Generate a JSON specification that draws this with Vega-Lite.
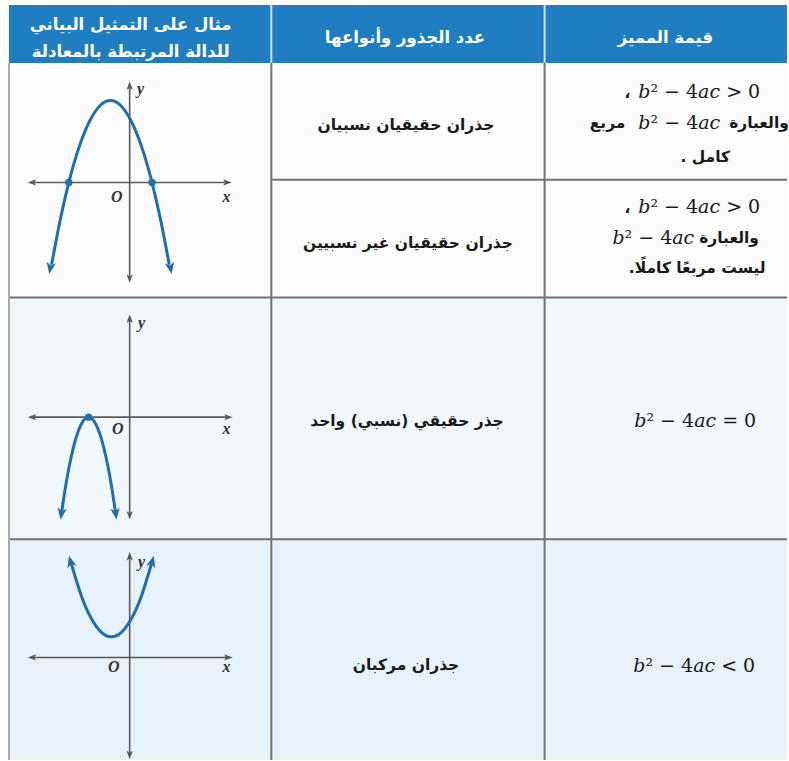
{
  "$schema": "https://vega.github.io/schema/vega-lite/v6.json",
  "width": 789,
  "height": 761,
  "padding": 0,
  "autosize": {"type": "fit", "contains": "padding"},
  "background": "#ffffff",
  "config": {"view": {"stroke": null}},
  "resolve": {"scale": {"color": "independent"}},
  "datasets": {
    "cells": [
      {"band": "header", "x": 9, "x2": 789, "y": 5, "y2": 63},
      {"band": "rows12", "x": 9, "x2": 789, "y": 63, "y2": 298},
      {"band": "row3", "x": 9, "x2": 789, "y": 298, "y2": 540},
      {"band": "row4", "x": 9, "x2": 789, "y": 540, "y2": 761}
    ],
    "grid": [
      {"kind": "grid", "x": 272, "x2": 272, "y": 63, "y2": 761},
      {"kind": "grid", "x": 546, "x2": 546, "y": 63, "y2": 761},
      {"kind": "grid", "x": 272, "x2": 789, "y": 180, "y2": 180},
      {"kind": "grid", "x": 9, "x2": 789, "y": 298, "y2": 298},
      {"kind": "grid", "x": 9, "x2": 789, "y": 540, "y2": 540},
      {"kind": "edge", "x": 9, "x2": 9, "y": 63, "y2": 761},
      {"kind": "head", "x": 272, "x2": 272, "y": 5, "y2": 63},
      {"kind": "head", "x": 546, "x2": 546, "y": 5, "y2": 63}
    ],
    "axes": [
      {"x": 31, "x2": 229, "y": 182.7, "y2": 182.7},
      {"x": 130, "x2": 130, "y": 85, "y2": 280},
      {"x": 31, "x2": 230, "y": 417.7, "y2": 417.7},
      {"x": 130, "x2": 130, "y": 318, "y2": 517},
      {"x": 31, "x2": 230, "y": 658.3, "y2": 658.3},
      {"x": 130, "x2": 130, "y": 556, "y2": 757}
    ],
    "axisArrows": [
      {"x": 32, "y": 182.7, "ang": 270}, {"x": 228, "y": 182.7, "ang": 90},
      {"x": 130, "y": 85.7, "ang": 0}, {"x": 130, "y": 279, "ang": 180},
      {"x": 32, "y": 417.7, "ang": 270}, {"x": 229, "y": 417.7, "ang": 90},
      {"x": 130, "y": 319, "ang": 0}, {"x": 130, "y": 516, "ang": 180},
      {"x": 32, "y": 658.3, "ang": 270}, {"x": 229, "y": 658.3, "ang": 90},
      {"x": 130, "y": 557, "ang": 0}, {"x": 130, "y": 756, "ang": 180}
    ],
    "curves": [
      {"g": "p1", "x": 51.7, "y": 265.0}, {"g": "p1", "x": 60.7, "y": 218.7}, {"g": "p1", "x": 70.7, "y": 176.2},
      {"g": "p1", "x": 80.7, "y": 143.2}, {"g": "p1", "x": 90.7, "y": 119.6}, {"g": "p1", "x": 100.7, "y": 105.4},
      {"g": "p1", "x": 110.7, "y": 100.7}, {"g": "p1", "x": 120.7, "y": 105.4}, {"g": "p1", "x": 130.7, "y": 119.6},
      {"g": "p1", "x": 140.7, "y": 143.2}, {"g": "p1", "x": 150.7, "y": 176.2}, {"g": "p1", "x": 160.7, "y": 218.7},
      {"g": "p1", "x": 169.7, "y": 265.0},
      {"g": "p3", "x": 61.8, "y": 512.8}, {"g": "p3", "x": 64.8, "y": 492.9}, {"g": "p3", "x": 68.8, "y": 469.9},
      {"g": "p3", "x": 73.8, "y": 447.1}, {"g": "p3", "x": 78.8, "y": 430.8}, {"g": "p3", "x": 83.8, "y": 421.0},
      {"g": "p3", "x": 88.8, "y": 417.7}, {"g": "p3", "x": 93.8, "y": 421.0}, {"g": "p3", "x": 98.8, "y": 430.8},
      {"g": "p3", "x": 103.8, "y": 447.1}, {"g": "p3", "x": 108.8, "y": 469.9}, {"g": "p3", "x": 112.8, "y": 492.9},
      {"g": "p3", "x": 115.8, "y": 512.8},
      {"g": "p4", "x": 71.4, "y": 564.2}, {"g": "p4", "x": 81.7, "y": 597.0}, {"g": "p4", "x": 91.7, "y": 619.6},
      {"g": "p4", "x": 101.7, "y": 633.2}, {"g": "p4", "x": 111.7, "y": 637.7}, {"g": "p4", "x": 121.7, "y": 633.2},
      {"g": "p4", "x": 131.7, "y": 619.6}, {"g": "p4", "x": 141.7, "y": 597.0}, {"g": "p4", "x": 152.0, "y": 564.2}
    ],
    "curveArrows": [
      {"x": 50.5, "y": 268.1, "ang": 190}, {"x": 170.9, "y": 268.1, "ang": 170},
      {"x": 61.6, "y": 514, "ang": 188}, {"x": 116, "y": 514, "ang": 172},
      {"x": 70.8, "y": 562.5, "ang": 345}, {"x": 152.5, "y": 562.5, "ang": 15}
    ],
    "roots": [
      {"x": 69, "y": 182.7}, {"x": 152.4, "y": 182.7}, {"x": 88.8, "y": 417.7}
    ],
    "axisLabels": [
      {"x": 141, "y": 89, "t": "y"}, {"x": 117, "y": 197, "t": "O"}, {"x": 227, "y": 197, "t": "x"},
      {"x": 142, "y": 323, "t": "y"}, {"x": 118, "y": 430, "t": "O"}, {"x": 227, "y": 430, "t": "x"},
      {"x": 142, "y": 563, "t": "y"}, {"x": 114, "y": 668, "t": "O"}, {"x": 227, "y": 668, "t": "x"}
    ],
    "headers": [
      {"x": 131, "y": 25, "t": "مثال على التمثيل البياني"},
      {"x": 131, "y": 52, "t": "للدالة المرتبطة بالمعادلة"},
      {"x": 406, "y": 38, "t": "عدد الجذور وأنواعها"},
      {"x": 667, "y": 38, "t": "قيمة المميز"}
    ],
    "roots_text": [
      {"x": 407, "y": 125, "t": "جذران حقيقيان نسبيان"},
      {"x": 409, "y": 243, "t": "جذران حقيقيان غير نسبيين"},
      {"x": 408, "y": 422, "t": "جذر حقيقي (نسبي) واحد"},
      {"x": 407, "y": 666, "t": "جذران مركبان"}
    ],
    "arabicCenter": [
      {"x": 629, "y": 93, "t": "،"},
      {"x": 707, "y": 157, "t": ". كامل"},
      {"x": 629, "y": 208, "t": "،"},
      {"x": 699, "y": 268, "t": ".ليست مربعًا كاملًا"}
    ],
    "arabicRight": [
      {"x": 627, "y": 123, "t": "مربع"}
    ],
    "arabicLeft": [
      {"x": 731, "y": 123, "t": "والعبارة"},
      {"x": 701, "y": 238, "t": "والعبارة"}
    ],
    "math": [
      {"x": 701, "y": 92, "t": "𝑏² − 4𝑎𝑐 > 0"},
      {"x": 681, "y": 123, "t": "𝑏² − 4𝑎𝑐"},
      {"x": 701, "y": 207, "t": "𝑏² − 4𝑎𝑐 > 0"},
      {"x": 655, "y": 238, "t": "𝑏² − 4𝑎𝑐"},
      {"x": 697, "y": 422, "t": "𝑏² − 4𝑎𝑐 = 0"},
      {"x": 696, "y": 667, "t": "𝑏² − 4𝑎𝑐 < 0"}
    ]
  },
  "encoding": {
    "x": {"field": "x", "type": "quantitative", "scale": {"domain": [0, 789], "nice": false, "zero": false}, "axis": null},
    "y": {"field": "y", "type": "quantitative", "scale": {"domain": [0, 761], "nice": false, "zero": false, "reverse": true}, "axis": null}
  },
  "layer": [
    {
      "data": {"name": "cells"},
      "mark": {"type": "rect"},
      "encoding": {
        "x2": {"field": "x2"},
        "y2": {"field": "y2"},
        "fill": {"field": "band", "type": "nominal", "legend": null,
          "scale": {"domain": ["header", "rows12", "row3", "row4"], "range": ["#1f7ec2", "#fbfbfb", "#f1f7fb", "#e7f2fa"]}}
      }
    },
    {
      "data": {"name": "grid"},
      "mark": {"type": "rule", "strokeWidth": 2},
      "encoding": {
        "x2": {"field": "x2"},
        "y2": {"field": "y2"},
        "stroke": {"field": "kind", "type": "nominal", "legend": null,
          "scale": {"domain": ["grid", "edge", "head"], "range": ["#737373", "#a8a8a8", "#cfe2f1"]}}
      }
    },
    {
      "data": {"name": "axes"},
      "mark": {"type": "rule", "strokeWidth": 1.6, "color": "#5a5a5a"},
      "encoding": {"x2": {"field": "x2"}, "y2": {"field": "y2"}}
    },
    {
      "data": {"name": "axisArrows"},
      "mark": {"type": "point", "filled": true, "opacity": 1, "color": "#5a5a5a", "size": 70, "shape": "M0,-1L0.75,1L0,0.55L-0.75,1Z"},
      "encoding": {"angle": {"field": "ang", "type": "quantitative", "scale": null}}
    },
    {
      "data": {"name": "curves"},
      "mark": {"type": "line", "strokeWidth": 3, "color": "#1f6fad", "interpolate": "natural"},
      "encoding": {"detail": {"field": "g", "type": "nominal"}}
    },
    {
      "data": {"name": "curveArrows"},
      "mark": {"type": "point", "filled": true, "opacity": 1, "color": "#1f6fad", "size": 160, "shape": "M0,-1L0.75,0.85L0,0.35L-0.75,0.85Z"},
      "encoding": {"angle": {"field": "ang", "type": "quantitative", "scale": null}}
    },
    {
      "data": {"name": "roots"},
      "mark": {"type": "point", "filled": true, "opacity": 1, "color": "#1f6fad", "size": 55, "shape": "circle"}
    },
    {
      "data": {"name": "axisLabels"},
      "mark": {"type": "text", "font": "Liberation Serif", "fontStyle": "italic", "fontWeight": "bold", "fontSize": 16, "color": "#333333", "align": "center", "baseline": "middle"},
      "encoding": {"text": {"field": "t"}}
    },
    {
      "data": {"name": "headers"},
      "mark": {"type": "text", "font": "DejaVu Sans", "fontWeight": "bold", "fontSize": 16.5, "color": "#ffffff", "align": "center", "baseline": "middle"},
      "encoding": {"text": {"field": "t"}}
    },
    {
      "data": {"name": "roots_text"},
      "mark": {"type": "text", "font": "DejaVu Sans", "fontWeight": "bold", "fontSize": 15.5, "color": "#1a1a1a", "align": "center", "baseline": "middle"},
      "encoding": {"text": {"field": "t"}}
    },
    {
      "data": {"name": "arabicCenter"},
      "mark": {"type": "text", "font": "DejaVu Sans", "fontWeight": "bold", "fontSize": 15.5, "color": "#1a1a1a", "align": "center", "baseline": "middle"},
      "encoding": {"text": {"field": "t"}}
    },
    {
      "data": {"name": "arabicRight"},
      "mark": {"type": "text", "font": "DejaVu Sans", "fontWeight": "bold", "fontSize": 15.5, "color": "#1a1a1a", "align": "right", "baseline": "middle"},
      "encoding": {"text": {"field": "t"}}
    },
    {
      "data": {"name": "arabicLeft"},
      "mark": {"type": "text", "font": "DejaVu Sans", "fontWeight": "bold", "fontSize": 15.5, "color": "#1a1a1a", "align": "left", "baseline": "middle"},
      "encoding": {"text": {"field": "t"}}
    },
    {
      "data": {"name": "math"},
      "mark": {"type": "text", "font": "DejaVu Serif", "fontSize": 19, "color": "#1a1a1a", "align": "center", "baseline": "middle"},
      "encoding": {"text": {"field": "t"}}
    }
  ]
}
